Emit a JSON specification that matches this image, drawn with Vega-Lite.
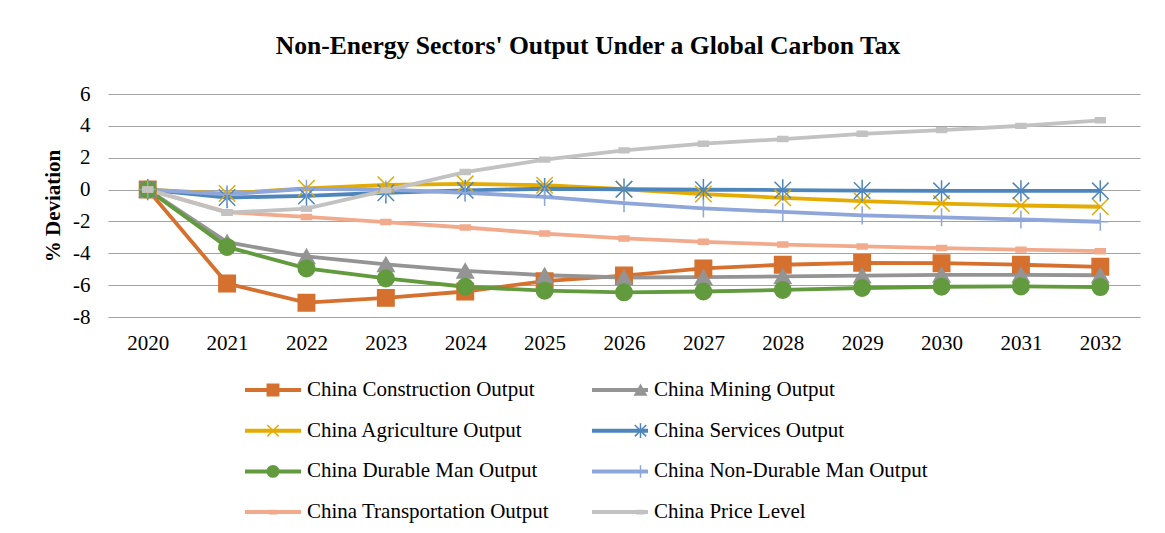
{
  "$schema": "https://vega.github.io/schema/vega-lite/v6.json",
  "width": 1032,
  "height": 223,
  "autosize": {"type": "none"},
  "padding": {"left": 108, "top": 94, "right": 25, "bottom": 216},
  "background": "white",
  "config": {
    "font": "Liberation Serif",
    "view": {"stroke": null}
  },
  "title": {
    "text": "Non-Energy Sectors' Output Under a Global Carbon Tax",
    "font": "Liberation Serif",
    "fontSize": 25.6,
    "fontWeight": "bold",
    "color": "#000000",
    "anchor": "middle",
    "dx": -36,
    "offset": 23
  },
  "data": {
    "values": [
      {"year": "2020", "series": "China Construction Output", "value": 0},
      {"year": "2021", "series": "China Construction Output", "value": -5.9},
      {"year": "2022", "series": "China Construction Output", "value": -7.1},
      {"year": "2023", "series": "China Construction Output", "value": -6.8},
      {"year": "2024", "series": "China Construction Output", "value": -6.4},
      {"year": "2025", "series": "China Construction Output", "value": -5.75},
      {"year": "2026", "series": "China Construction Output", "value": -5.4},
      {"year": "2027", "series": "China Construction Output", "value": -4.95},
      {"year": "2028", "series": "China Construction Output", "value": -4.72},
      {"year": "2029", "series": "China Construction Output", "value": -4.6},
      {"year": "2030", "series": "China Construction Output", "value": -4.62},
      {"year": "2031", "series": "China Construction Output", "value": -4.72},
      {"year": "2032", "series": "China Construction Output", "value": -4.85},
      {"year": "2020", "series": "China Mining Output", "value": 0},
      {"year": "2021", "series": "China Mining Output", "value": -3.3},
      {"year": "2022", "series": "China Mining Output", "value": -4.2},
      {"year": "2023", "series": "China Mining Output", "value": -4.7},
      {"year": "2024", "series": "China Mining Output", "value": -5.1},
      {"year": "2025", "series": "China Mining Output", "value": -5.38},
      {"year": "2026", "series": "China Mining Output", "value": -5.52},
      {"year": "2027", "series": "China Mining Output", "value": -5.5},
      {"year": "2028", "series": "China Mining Output", "value": -5.45},
      {"year": "2029", "series": "China Mining Output", "value": -5.4},
      {"year": "2030", "series": "China Mining Output", "value": -5.35},
      {"year": "2031", "series": "China Mining Output", "value": -5.35},
      {"year": "2032", "series": "China Mining Output", "value": -5.38},
      {"year": "2020", "series": "China Agriculture Output", "value": 0},
      {"year": "2021", "series": "China Agriculture Output", "value": -0.25},
      {"year": "2022", "series": "China Agriculture Output", "value": 0.08},
      {"year": "2023", "series": "China Agriculture Output", "value": 0.3},
      {"year": "2024", "series": "China Agriculture Output", "value": 0.36},
      {"year": "2025", "series": "China Agriculture Output", "value": 0.27},
      {"year": "2026", "series": "China Agriculture Output", "value": 0.02},
      {"year": "2027", "series": "China Agriculture Output", "value": -0.28},
      {"year": "2028", "series": "China Agriculture Output", "value": -0.52},
      {"year": "2029", "series": "China Agriculture Output", "value": -0.72},
      {"year": "2030", "series": "China Agriculture Output", "value": -0.88},
      {"year": "2031", "series": "China Agriculture Output", "value": -1.0},
      {"year": "2032", "series": "China Agriculture Output", "value": -1.08},
      {"year": "2020", "series": "China Services Output", "value": 0},
      {"year": "2021", "series": "China Services Output", "value": -0.5},
      {"year": "2022", "series": "China Services Output", "value": -0.4},
      {"year": "2023", "series": "China Services Output", "value": -0.2},
      {"year": "2024", "series": "China Services Output", "value": -0.05},
      {"year": "2025", "series": "China Services Output", "value": 0.05},
      {"year": "2026", "series": "China Services Output", "value": 0.02},
      {"year": "2027", "series": "China Services Output", "value": -0.01},
      {"year": "2028", "series": "China Services Output", "value": -0.03},
      {"year": "2029", "series": "China Services Output", "value": -0.06},
      {"year": "2030", "series": "China Services Output", "value": -0.08},
      {"year": "2031", "series": "China Services Output", "value": -0.08},
      {"year": "2032", "series": "China Services Output", "value": -0.08},
      {"year": "2020", "series": "China Durable Man Output", "value": 0},
      {"year": "2021", "series": "China Durable Man Output", "value": -3.6},
      {"year": "2022", "series": "China Durable Man Output", "value": -4.95},
      {"year": "2023", "series": "China Durable Man Output", "value": -5.58},
      {"year": "2024", "series": "China Durable Man Output", "value": -6.1},
      {"year": "2025", "series": "China Durable Man Output", "value": -6.35},
      {"year": "2026", "series": "China Durable Man Output", "value": -6.45},
      {"year": "2027", "series": "China Durable Man Output", "value": -6.4},
      {"year": "2028", "series": "China Durable Man Output", "value": -6.3},
      {"year": "2029", "series": "China Durable Man Output", "value": -6.18},
      {"year": "2030", "series": "China Durable Man Output", "value": -6.1},
      {"year": "2031", "series": "China Durable Man Output", "value": -6.08},
      {"year": "2032", "series": "China Durable Man Output", "value": -6.12},
      {"year": "2020", "series": "China Non-Durable Man Output", "value": 0},
      {"year": "2021", "series": "China Non-Durable Man Output", "value": -0.3},
      {"year": "2022", "series": "China Non-Durable Man Output", "value": 0.05},
      {"year": "2023", "series": "China Non-Durable Man Output", "value": 0.0},
      {"year": "2024", "series": "China Non-Durable Man Output", "value": -0.2},
      {"year": "2025", "series": "China Non-Durable Man Output", "value": -0.46},
      {"year": "2026", "series": "China Non-Durable Man Output", "value": -0.85},
      {"year": "2027", "series": "China Non-Durable Man Output", "value": -1.18},
      {"year": "2028", "series": "China Non-Durable Man Output", "value": -1.4},
      {"year": "2029", "series": "China Non-Durable Man Output", "value": -1.62},
      {"year": "2030", "series": "China Non-Durable Man Output", "value": -1.74},
      {"year": "2031", "series": "China Non-Durable Man Output", "value": -1.88},
      {"year": "2032", "series": "China Non-Durable Man Output", "value": -2.02},
      {"year": "2020", "series": "China Transportation Output", "value": 0},
      {"year": "2021", "series": "China Transportation Output", "value": -1.42},
      {"year": "2022", "series": "China Transportation Output", "value": -1.72},
      {"year": "2023", "series": "China Transportation Output", "value": -2.04},
      {"year": "2024", "series": "China Transportation Output", "value": -2.38},
      {"year": "2025", "series": "China Transportation Output", "value": -2.76},
      {"year": "2026", "series": "China Transportation Output", "value": -3.07},
      {"year": "2027", "series": "China Transportation Output", "value": -3.28},
      {"year": "2028", "series": "China Transportation Output", "value": -3.45},
      {"year": "2029", "series": "China Transportation Output", "value": -3.57},
      {"year": "2030", "series": "China Transportation Output", "value": -3.67},
      {"year": "2031", "series": "China Transportation Output", "value": -3.77},
      {"year": "2032", "series": "China Transportation Output", "value": -3.87},
      {"year": "2020", "series": "China Price Level", "value": 0},
      {"year": "2021", "series": "China Price Level", "value": -1.45},
      {"year": "2022", "series": "China Price Level", "value": -1.2},
      {"year": "2023", "series": "China Price Level", "value": -0.05},
      {"year": "2024", "series": "China Price Level", "value": 1.1},
      {"year": "2025", "series": "China Price Level", "value": 1.88},
      {"year": "2026", "series": "China Price Level", "value": 2.46},
      {"year": "2027", "series": "China Price Level", "value": 2.88},
      {"year": "2028", "series": "China Price Level", "value": 3.17},
      {"year": "2029", "series": "China Price Level", "value": 3.5},
      {"year": "2030", "series": "China Price Level", "value": 3.73},
      {"year": "2031", "series": "China Price Level", "value": 4.0},
      {"year": "2032", "series": "China Price Level", "value": 4.35}
    ]
  },
  "encoding": {
    "x": {
      "field": "year",
      "type": "ordinal",
      "scale": {"type": "point", "padding": 0.5},
      "axis": {
        "title": null,
        "labelAngle": 0,
        "labelFont": "Liberation Serif",
        "labelFontSize": 21,
        "labelColor": "#000000",
        "labelPadding": 15,
        "ticks": false,
        "tickSize": 0,
        "domain": false,
        "grid": false
      }
    },
    "y": {
      "field": "value",
      "type": "quantitative",
      "scale": {"domain": [-8, 6], "nice": false, "zero": false},
      "axis": {
        "title": "% Deviation",
        "titleFont": "Liberation Serif",
        "titleFontSize": 21,
        "titleFontWeight": "bold",
        "titleColor": "#000000",
        "titlePadding": 9,
        "values": [-8, -6, -4, -2, 0, 2, 4, 6],
        "labelExpr": "datum.value < 0 ? '-' + abs(datum.value) : '' + datum.value",
        "labelFont": "Liberation Serif",
        "labelFontSize": 21,
        "labelColor": "#000000",
        "labelPadding": 18,
        "ticks": false,
        "tickSize": 0,
        "domain": false,
        "grid": true,
        "gridColor": "#a3a3a3",
        "gridWidth": 1.2
      }
    }
  },
  "layer": [
    {
      "mark": {"type": "line", "strokeWidth": 3.8},
      "encoding": {
        "color": {
          "field": "series",
          "type": "nominal",
          "sort": ["China Construction Output", "China Mining Output", "China Agriculture Output", "China Services Output", "China Durable Man Output", "China Non-Durable Man Output", "China Transportation Output", "China Price Level"],
          "scale": {
            "range": ["#d5702e", "#949494", "#e4ab00", "#4e86bc", "#629a3e", "#8fa6da", "#f2aa8c", "#c2c2c2"]
          },
          "legend": {
            "orient": "none",
            "direction": "horizontal",
            "legendX": 135,
            "legendY": 286,
            "columns": 2,
            "columnPadding": 41,
            "rowPadding": 19.7,
            "clipHeight": 20,
            "symbolType": "stroke",
            "symbolSize": 3136,
            "symbolStrokeWidth": 4,
            "labelOffset": 4,
            "labelFont": "Liberation Serif",
            "labelFontSize": 21,
            "labelColor": "#000000",
            "labelLimit": 0,
            "title": null
          }
        }
      }
    },
    {
      "mark": {"type": "point", "filled": false, "opacity": 1, "strokeWidth": 1.5, "size": 270},
      "encoding": {
        "shape": {
          "field": "series",
          "type": "nominal",
          "scale": {
            "domain": ["China Construction Output", "China Mining Output", "China Agriculture Output", "China Services Output", "China Durable Man Output", "China Non-Durable Man Output", "China Transportation Output", "China Price Level"],
            "range": ["square", "triangle-up", "M-1,-1L1,1M-1,1L1,-1", "M-1,-1L1,1M-1,1L1,-1M0,-1.3L0,1.3", "circle", "M-1,0L1,0M0,-1.1L0,1.1", "M-0.6,-0.3L0.6,-0.3L0.6,0.3L-0.6,0.3Z", "M-0.6,-0.3L0.6,-0.3L0.6,0.3L-0.6,0.3Z"]
          },
          "legend": {
            "orient": "none",
            "direction": "horizontal",
            "legendX": 135,
            "legendY": 286,
            "columns": 2,
            "columnPadding": 283.5,
            "rowPadding": 19.7,
            "clipHeight": 20,
            "symbolSize": 130,
            "symbolStrokeWidth": 1.5,
            "symbolOpacity": 1,
            "symbolOffset": 19.5,
            "labelOffset": 43,
            "labelExpr": "''",
            "labelFont": "Liberation Serif",
            "labelFontSize": 21,
            "labelColor": "#000000",
            "labelLimit": 0,
            "title": null
          }
        },
        "stroke": {
          "field": "series",
          "type": "nominal",
          "scale": {
            "domain": ["China Construction Output", "China Mining Output", "China Agriculture Output", "China Services Output", "China Durable Man Output", "China Non-Durable Man Output", "China Transportation Output", "China Price Level"],
            "range": ["#d5702e", "#949494", "#e4ab00", "#4e86bc", "#629a3e", "#8fa6da", "#f2aa8c", "#c2c2c2"]
          },
          "legend": {
            "orient": "none",
            "direction": "horizontal",
            "legendX": 135,
            "legendY": 286,
            "columns": 2,
            "columnPadding": 283.5,
            "rowPadding": 19.7,
            "clipHeight": 20,
            "symbolSize": 130,
            "symbolStrokeWidth": 1.5,
            "symbolOpacity": 1,
            "symbolOffset": 19.5,
            "labelOffset": 43,
            "labelExpr": "''",
            "labelFont": "Liberation Serif",
            "labelFontSize": 21,
            "labelColor": "#000000",
            "labelLimit": 0,
            "title": null
          }
        },
        "fill": {
          "field": "series",
          "type": "nominal",
          "scale": {
            "domain": ["China Construction Output", "China Mining Output", "China Agriculture Output", "China Services Output", "China Durable Man Output", "China Non-Durable Man Output", "China Transportation Output", "China Price Level"],
            "range": ["#d5702e", "#949494", "transparent", "transparent", "#629a3e", "transparent", "#f2aa8c", "#c2c2c2"]
          },
          "legend": {
            "orient": "none",
            "direction": "horizontal",
            "legendX": 135,
            "legendY": 286,
            "columns": 2,
            "columnPadding": 283.5,
            "rowPadding": 19.7,
            "clipHeight": 20,
            "symbolSize": 130,
            "symbolStrokeWidth": 1.5,
            "symbolOpacity": 1,
            "symbolOffset": 19.5,
            "labelOffset": 43,
            "labelExpr": "''",
            "labelFont": "Liberation Serif",
            "labelFontSize": 21,
            "labelColor": "#000000",
            "labelLimit": 0,
            "title": null
          }
        }
      }
    }
  ]
}
